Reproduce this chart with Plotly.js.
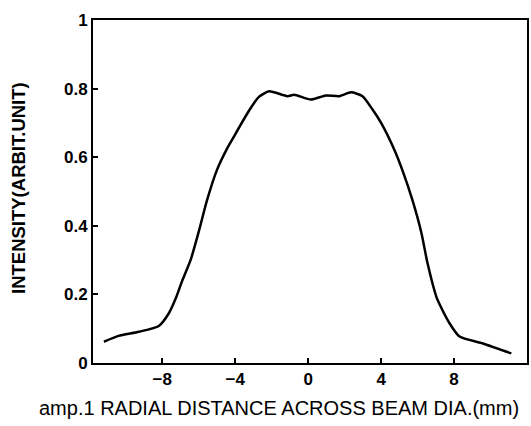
<!DOCTYPE html>
<html><head><meta charset="utf-8">
<script src="https://cdn.plot.ly/plotly-3.0.1.min.js"></script>
<style>body{margin:0;background:#fff}#c{width:531px;height:426px}</style>
</head><body><div id="c"></div>
<script>
const distance = [-11.2, -10.4, -9.29, -8.19, -7.64, -7.25, -6.92, -6.43, -5.99, -5.55, -5.0, -4.45, -4.16, -3.24, -2.7, -2.14, -1.14, -0.77, 0.15, 0.97, 1.7, 2.35, 2.98, 3.53, 4.0, 4.73, 5.16, 5.71, 6.21, 6.54, 7.03, 7.2, 7.75, 8.3, 9.58, 11.14];
const intensity = [0.062, 0.079, 0.091, 0.108, 0.145, 0.19, 0.238, 0.303, 0.385, 0.474, 0.563, 0.625, 0.652, 0.736, 0.776, 0.792, 0.778, 0.782, 0.768, 0.78, 0.778, 0.789, 0.778, 0.739, 0.70, 0.621, 0.563, 0.476, 0.379, 0.292, 0.193, 0.172, 0.116, 0.077, 0.057, 0.028];
const xTicks = [-8, -4, 0, 4, 8];
const xTickLabels = ['\u22128', '\u22124', '0', '4', '8'];
const yTicks = [0, 0.2, 0.4, 0.6, 0.8, 1];
const yTickLabels = ['0', '0.2', '0.4', '0.6', '0.8', '1'];
const xTitle = 'amp.1 RADIAL DISTANCE ACROSS BEAM DIA.(mm)';
const yTitle = 'INTENSITY(ARBIT.UNIT)';

const fam = '"Liberation Sans", Arial, sans-serif';
Plotly.newPlot('c', [{
  x: distance, y: intensity, type: 'scatter', mode: 'lines',
  line: {color: '#000', width: 2.5, shape: 'spline', smoothing: 0.6},
  hoverinfo: 'skip'
}], {
  width: 531, height: 426,
  margin: {l: 93, r: 4, t: 20, b: 63},
  paper_bgcolor: '#fff', plot_bgcolor: '#fff',
  showlegend: false,
  font: {family: fam, color: '#000'},
  xaxis: {
    range: [-11.8, 12], tickvals: xTicks, ticktext: xTickLabels,
    ticks: 'inside', ticklen: 5, tickwidth: 2, tickcolor: '#000',
    showline: true, linewidth: 2, linecolor: '#000', mirror: true,
    showgrid: false, zeroline: false,
    tickfont: {size: 17, weight: 'bold'}
  },
  yaxis: {
    range: [0, 1], tickvals: yTicks, ticktext: yTickLabels,
    ticks: 'inside', ticklen: 5, tickwidth: 2, tickcolor: '#000',
    showline: true, linewidth: 2, linecolor: '#000', mirror: true,
    showgrid: false, zeroline: false,
    tickfont: {size: 17, weight: 'bold'}
  },
  annotations: [
    {text: xTitle, xref: 'paper', yref: 'paper', x: (279 - 93) / 434, y: (363 - 408) / 343,
     xanchor: 'center', yanchor: 'middle', showarrow: false, font: {size: 20}},
    {text: yTitle, xref: 'paper', yref: 'paper', x: (18 - 93) / 434, y: (363 - 188) / 343,
     xanchor: 'center', yanchor: 'middle', textangle: -90, showarrow: false, font: {size: 18.5, weight: 'bold'}}
  ]
}, {staticPlot: true});
</script></body></html>
